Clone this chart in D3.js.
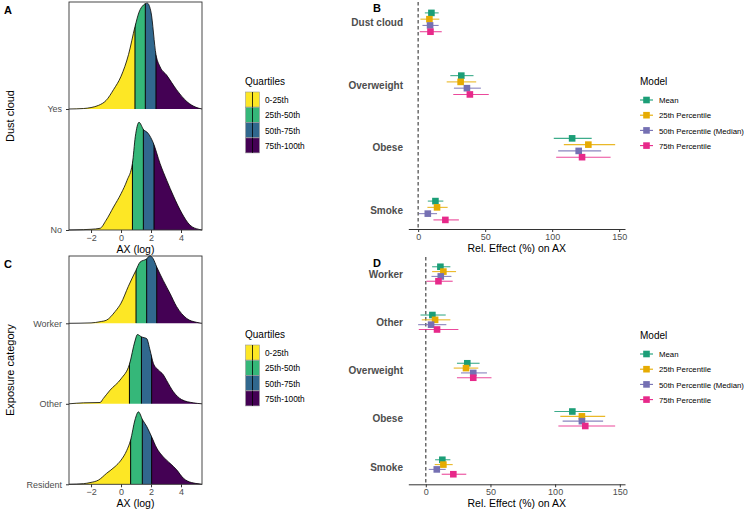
<!DOCTYPE html>
<html>
<head>
<meta charset="utf-8">
<script src="https://cdn.jsdelivr.net/npm/d3@7"></script>
<style>
  body { margin: 0; background: #fff; }
  svg { font-family: "Liberation Sans", Arial, sans-serif; }
</style>
</head>
<body>
<div id="chart"></div>
<script>
// ---- ridge data (x = AX log, d = density as share of ridge spacing) ----
const quartileLabels = ["0-25th", "25th-50th", "50th-75th", "75th-100th"]
const quartileColors = ["#fde725", "#35b779", "#31688e", "#440154"]
const xTicksRidge = [-2, 0, 2, 4]

const dustGroups = ["No", "Yes"]
const densityNo = [[-3.47,0],[-2.5,0.003],[-2,0.006],[-1.4,0.014],[-1,0.08],[-0.5,0.19],[0,0.3],[0.4,0.41],[0.76,0.55],[0.95,0.77],[1.2,0.89],[1.5,0.83],[1.8,0.8],[2.15,0.72],[2.6,0.55],[3.05,0.41],[3.5,0.28],[4.05,0.14],[4.6,0.04],[5.2,0.005],[5.4,0]]
const densityYes = [[-3.47,0],[-2.5,0.004],[-2,0.012],[-1.5,0.03],[-1,0.07],[-0.5,0.16],[0,0.27],[0.5,0.45],[0.93,0.68],[1.2,0.8],[1.5,0.86],[1.75,0.875],[2,0.8],[2.33,0.45],[2.6,0.35],[3.04,0.28],[3.7,0.16],[4.4,0.06],[5,0.014],[5.4,0]]
const cutsNo = [0.76, 1.49, 2.2]
const cutsYes = [0.93, 1.62, 2.33]

const exposureGroups = ["Resident", "Other", "Worker"]
const densityResident = [[-3.47,0],[-2.5,0.008],[-2.07,0.021],[-1.5,0.053],[-0.96,0.137],[-0.4,0.22],[0,0.3],[0.38,0.42],[0.64,0.55],[0.93,0.8],[1.16,0.9],[1.44,0.8],[1.71,0.72],[2.04,0.59],[2.38,0.45],[2.82,0.34],[3.27,0.26],[3.71,0.18],[4.16,0.075],[4.71,0.021],[5.27,0.004],[5.4,0]]
const densityOther = [[-3.47,0],[-2.5,0.012],[-1.4,0.016],[-1.18,0.066],[-0.73,0.17],[0,0.31],[0.56,0.49],[0.93,0.78],[1.09,0.86],[1.38,0.83],[1.71,0.81],[1.93,0.67],[2.16,0.5],[2.49,0.42],[2.82,0.36],[3.04,0.29],[3.49,0.15],[4.04,0.053],[4.82,0.012],[5.4,0]]
const densityWorker = [[-3.47,0],[-2,0.005],[-1.4,0.02],[-0.96,0.04],[-0.4,0.145],[0,0.25],[0.49,0.46],[1,0.66],[1.27,0.76],[1.71,0.8],[1.93,0.84],[2.15,0.8],[2.38,0.7],[2.82,0.53],[3.27,0.37],[3.7,0.21],[4.38,0.06],[5.04,0.012],[5.4,0]]
const cutsResident = [0.64, 1.42, 2.04]
const cutsOther = [0.56, 1.36, 2.04]
const cutsWorker = [1.0, 1.71, 2.38]

// ---- forest data: [estimate, lower, upper] per category ----
const modelNames = ["Mean", "25th Percentile", "50th Percentile (Median)", "75th Percentile"]
const modelColors = ["#1b9e77", "#e6ab02", "#7570b3", "#e7298a"]
const xTicksEffect = [0, 50, 100, 150]

const catsB = ["Dust cloud", "Overweight", "Obese", "Smoke"]
const bMean = [[9.9,5.0,15.3],[32.2,24.0,41.3],[114.9,101.2,129.5],[12.9,7.2,18.8]]
const bP25  = [[8.4,1.7,15.8],[31.7,21.3,43.3],[127.0,108.7,147.0],[14.1,6.9,22.0]]
const bP50  = [[8.9,3.2,15.3],[36.4,26.7,46.8],[119.8,104.5,136.6],[7.2,0.5,14.1]]
const bP75  = [[9.2,1.2,17.6],[38.6,26.2,52.7],[122.3,103.0,143.6],[20.3,11.4,30.4]]

const catsD = ["Worker", "Other", "Overweight", "Obese", "Smoke"]
const dMean = [[11.3,4.9,19.0],[5.1,-4.1,15.4],[32.1,24.1,41.6],[113.3,99.4,128.1],[12.8,7.2,19.0]]
const dP25  = [[13.6,4.9,23.4],[7.2,-3.1,19.0],[31.1,21.6,40.6],[120.7,104.0,138.7],[13.6,6.9,20.8]]
const dP50  = [[11.6,4.4,19.8],[4.1,-5.9,15.9],[36.7,27.2,47.3],[120.7,105.8,137.1],[8.5,2.3,15.4]]
const dP75  = [[9.8,0.5,20.8],[8.7,-5.4,25.2],[36.7,24.1,50.8],[123.3,102.5,146.4],[21.3,12.3,31.3]]

const W = 746, H = 510
const svg = d3.select("#chart").append("svg").attr("width", W).attr("height", H)
const grey = "#4d4d4d"
let clipId = 0

function drawRidges(p) {
    let g = svg.append("g")
    let x = d3.scaleLinear().domain([-3.47, 5.4]).range([69, 202])
    let base = d3.scalePoint().domain(p.groups).range([p.bottom, p.topBase])
    let spacing = (p.bottom - p.topBase) / (p.groups.length - 1)
    let h = d3.scaleLinear().domain([0, 1]).range([0, spacing])

    // draw from top ridge down so lower ridges sit in front
    p.groups.slice().reverse().forEach(grp => {
        let i = p.groups.indexOf(grp)
        let b = base(grp)
        let dens = p.density[i]
        let cuts = p.cuts[i]
        let area = d3.area().x(d => x(d[0])).y0(b).y1(d => b - h(d[1])).curve(d3.curveMonotoneX)
        let line = d3.line().x(d => x(d[0])).y(d => b - h(d[1])).curve(d3.curveMonotoneX)

        let edges = [x.domain()[0]].concat(cuts, [x.domain()[1]])
        edges.slice(0, 4).forEach((e, q) => {
            let id = "clip" + (clipId++)
            g.append("clipPath").attr("id", id).append("rect")
                .attr("x", x(e)).attr("y", 0)
                .attr("width", x(edges[q + 1]) - x(e)).attr("height", H)
            g.append("path").datum(dens)
                .attr("d", area)
                .attr("fill", quartileColors[q])
                .attr("clip-path", `url(#${id})`)
        })

        let areaId = "clip" + (clipId++)
        g.append("clipPath").attr("id", areaId).append("path").datum(dens).attr("d", area)
        g.selectAll(null).data(cuts).enter().append("line")
            .attr("x1", d => x(d)).attr("x2", d => x(d))
            .attr("y1", b).attr("y2", b - spacing)
            .attr("stroke", "#000").attr("stroke-width", 1)
            .attr("clip-path", `url(#${areaId})`)

        g.append("path").datum(dens)
            .attr("d", line)
            .attr("fill", "none")
            .attr("stroke", "#000")
            .attr("stroke-width", 0.8)
    })

    // frame
    g.append("rect")
        .attr("x", 69).attr("y", p.top)
        .attr("width", 133).attr("height", p.bottom - p.top)
        .attr("fill", "none").attr("stroke", "#333").attr("stroke-width", 0.9)

    // x axis
    let xAxis = d3.axisBottom(x).tickValues(xTicksRidge).tickSize(3).tickSizeOuter(0)
    let ax = g.append("g").attr("transform", `translate(0, ${p.bottom})`).call(xAxis)
    ax.select(".domain").remove()
    ax.selectAll("line").attr("stroke", "#333")
    ax.selectAll("text").attr("fill", grey).attr("font-size", 9).attr("dy", "0.55em")

    let yAxis = d3.axisLeft(base).tickSize(3).tickSizeOuter(0)
    let ay = g.append("g").attr("transform", "translate(69, 0)").call(yAxis)
    ay.select(".domain").remove()
    ay.selectAll("line").attr("stroke", "#333")
    ay.selectAll("text").attr("fill", grey).attr("font-size", 9).attr("dx", "-0.1em")

    g.append("text")
        .attr("x", 135.5).attr("y", p.bottom + 23)
        .attr("text-anchor", "middle").attr("font-size", 10.5)
        .text("AX (log)")

    g.append("text")
        .attr("transform", `translate(14, ${(p.top + p.bottom) / 2}) rotate(-90)`)
        .attr("text-anchor", "middle").attr("font-size", 11)
        .text(p.yTitle)

    g.append("text")
        .attr("x", 4).attr("y", p.top + 12)
        .attr("font-size", 11).attr("font-weight", "bold")
        .text(p.label)

    // legend
    let lg = g.append("g").attr("transform", `translate(245, ${p.legendTop})`)
    lg.append("text").attr("x", 0).attr("y", 0).attr("font-size", 10).text("Quartiles")
    quartileLabels.forEach((lab, q) => {
        let yy = 7 + q * 15.3
        lg.append("rect").attr("x", 0.5).attr("y", yy).attr("width", 14).attr("height", 15)
            .attr("fill", quartileColors[q]).attr("stroke", "#999").attr("stroke-width", 0.6)
        lg.append("line").attr("x1", 7.5).attr("x2", 7.5).attr("y1", yy).attr("y2", yy + 15)
            .attr("stroke", "#000").attr("stroke-width", 0.8)
        lg.append("text").attr("x", 20).attr("y", yy + 11).attr("font-size", 8.3).text(lab)
    })
}

function drawForest(p) {
    let g = svg.append("g")
    let allVals = p.series.flat(2)
    let lo = d3.min(allVals.concat([0])), hi = d3.max(allVals)
    let pad = (hi - lo) * 0.05
    let x = d3.scaleLinear().domain([lo - pad, hi + pad]).range([408.3, 625])
    let y = d3.scalePoint().domain(p.cats).range([p.firstY, p.lastY])
    let step = (p.lastY - p.firstY) / (p.cats.length - 1)
    let dodge = step * 0.1

    g.append("line")
        .attr("x1", x(0)).attr("x2", x(0))
        .attr("y1", p.top).attr("y2", p.axisY)
        .attr("stroke", "#555").attr("stroke-width", 1.3).attr("stroke-dasharray", "3.5,2.5")

    p.series.forEach((ser, m) => {
        let off = (m - 1.5) * dodge
        g.selectAll(null).data(ser).enter().append("line")
            .attr("x1", d => x(d[1])).attr("x2", d => x(d[2]))
            .attr("y1", (d, i) => y(p.cats[i]) + off).attr("y2", (d, i) => y(p.cats[i]) + off)
            .attr("stroke", modelColors[m]).attr("stroke-width", 1.1).attr("stroke-opacity", 0.85)
        g.selectAll(null).data(ser).enter().append("rect")
            .attr("x", d => x(d[0]) - 3.3)
            .attr("y", (d, i) => y(p.cats[i]) + off - 3.3)
            .attr("width", 6.6).attr("height", 6.6)
            .attr("fill", modelColors[m])
    })

    let xAxis = d3.axisBottom(x).tickValues(xTicksEffect).tickSize(3).tickSizeOuter(0)
    let ax = g.append("g").attr("transform", `translate(0, ${p.axisY})`).call(xAxis)
    ax.select(".domain").attr("stroke", "#333").attr("stroke-width", 1)
    ax.selectAll(".tick line").attr("stroke", "#333")
    ax.selectAll("text").attr("fill", grey).attr("font-size", 9).attr("dy", "0.55em")

    g.selectAll(null).data(p.cats).enter().append("text")
        .attr("x", 403).attr("y", d => y(d))
        .attr("dy", "0.35em").attr("text-anchor", "end")
        .attr("font-size", 10).attr("font-weight", "bold").attr("fill", grey)
        .text(d => d)

    g.append("text")
        .attr("x", 516.7).attr("y", p.axisY + 23)
        .attr("text-anchor", "middle").attr("font-size", 10.5)
        .text("Rel. Effect (%) on AX")

    g.append("text")
        .attr("x", 373).attr("y", p.top + 10)
        .attr("font-size", 11).attr("font-weight", "bold")
        .text(p.label)

    let lg = g.append("g").attr("transform", `translate(640, ${p.legendTop})`)
    lg.append("text").attr("x", 0).attr("y", 0).attr("font-size", 10).text("Model")
    modelNames.forEach((lab, m) => {
        let yy = 15 + m * 15.2
        lg.append("line").attr("x1", 0).attr("x2", 13).attr("y1", yy).attr("y2", yy)
            .attr("stroke", modelColors[m]).attr("stroke-width", 1.1)
        lg.append("rect").attr("x", 3.2).attr("y", yy - 3.3).attr("width", 6.6).attr("height", 6.6)
            .attr("fill", modelColors[m])
        lg.append("text").attr("x", 19).attr("y", yy + 3.2).attr("font-size", 7.8).text(lab)
    })
}

drawRidges({groups: dustGroups, density: [densityNo, densityYes], cuts: [cutsNo, cutsYes],
    top: 2, topBase: 109, bottom: 230, yTitle: "Dust cloud", label: "A", legendTop: 85})
drawRidges({groups: exposureGroups, density: [densityResident, densityOther, densityWorker],
    cuts: [cutsResident, cutsOther, cutsWorker],
    top: 256, topBase: 323.3, bottom: 484.3, yTitle: "Exposure category", label: "C", legendTop: 338})

drawForest({cats: catsB, series: [bMean, bP25, bP50, bP75], firstY: 22.3, lastY: 210.5,
    top: 2, axisY: 229, label: "B", legendTop: 85})
drawForest({cats: catsD, series: [dMean, dP25, dP50, dP75], firstY: 274, lastY: 467,
    top: 257, axisY: 484.3, label: "D", legendTop: 339})
</script>
</body>
</html>
